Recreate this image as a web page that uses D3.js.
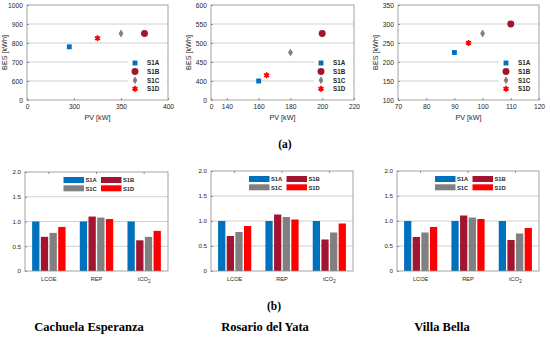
<!DOCTYPE html>
<html lang="en">
<head>
  <meta charset="UTF-8">
  <title>PV / BES sizing and indicators</title>
  <style>
    body { margin: 0; background: #fff; }
    svg text { font-family: "Liberation Sans", Arial, sans-serif; fill: #262626; }
    .title { font-family: "Liberation Serif", "Times New Roman", serif !important; font-weight: bold; fill: #000 !important; }
    .leg { font-weight: bold; }
  </style>
</head>
<body>
  <div class="canvas"></div>
  <script src="https://d3js.org/d3.v7.min.js"></script>
  <script>
    // ---- data ----
    const scenarios = ['S1A', 'S1B', 'S1C', 'S1D'];
    const sites = ['Cachuela Esperanza', 'Rosario del Yata', 'Villa Bella'];
    const indicators = ['LCOE', 'REP', 'tCO2'];

    // PV [kW] and BES [kWh] per scenario (S1A..S1D)
    const pvCachuela = [295, 375, 350, 325];
    const besCachuela = [780, 850, 850, 825];
    const pvRosario = [160, 200, 180, 165];
    const besRosario = [400, 525, 475, 415];
    const pvVilla = [90, 110, 100, 95];
    const besVilla = [225, 300, 275, 250];

    // normalised indicators, rows = scenario, cols = LCOE, REP, tCO2
    const barsCachuela = [[1.0, 1.0, 1.0], [0.69, 1.10, 0.62], [0.77, 1.08, 0.69], [0.89, 1.05, 0.81]];
    const barsRosario = [[1.0, 1.0, 1.0], [0.70, 1.13, 0.63], [0.78, 1.08, 0.77], [0.90, 1.03, 0.95]];
    const barsVilla = [[1.0, 1.0, 1.0], [0.68, 1.11, 0.62], [0.77, 1.07, 0.75], [0.88, 1.04, 0.86]];

    // axis ticks (the first label of a broken axis is shown as 0)
    const xTicksCachuela = [250, 300, 350, 400];
    const xLabelsCachuela = ['0', '300', '350', '400'];
    const yTicksCachuela = [500, 600, 700, 800, 900, 1000];
    const yLabelsCachuela = ['0', '600', '700', '800', '900', '1000'];
    const xTicksRosario = [130, 140, 160, 180, 200, 220];
    const xLabelsRosario = ['0', '140', '160', '180', '200', '220'];
    const yTicksRosario = [350, 400, 450, 500, 550, 600];
    const yLabelsRosario = ['0', '400', '450', '500', '550', '600'];
    const xTicksVilla = [70, 80, 90, 100, 110, 120];
    const xLabelsVilla = ['70', '80', '90', '100', '110', '120'];
    const yTicksVilla = [100, 150, 200, 250, 300, 350];
    const yLabelsVilla = ['100', '150', '200', '250', '300', '350'];
    const barTicks = [0, 0.5, 1.0, 1.5, 2.0];
    const barTickLabels = ['0', '0.5', '1.0', '1.5', '2.0'];

    const colors = ['#0072BD', '#A2142F', '#808080', '#FF0000'];
    const frameColor = '#8c8c8c';
    const gridColor = '#cfcfcf';

    const svg = d3.select('.canvas')
      .append('svg')
      .attr('width', 550)
      .attr('height', 338);

    // ---- scatter panels ----
    const scatterPanels = [
      { l: 27, r: 168, t: 5, b: 100, pv: pvCachuela, bes: besCachuela,
        xt: xTicksCachuela, xl: xLabelsCachuela, yt: yTicksCachuela, yl: yLabelsCachuela },
      { l: 211, r: 354, t: 5, b: 100, pv: pvRosario, bes: besRosario,
        xt: xTicksRosario, xl: xLabelsRosario, yt: yTicksRosario, yl: yLabelsRosario },
      { l: 398, r: 539, t: 5, b: 100, pv: pvVilla, bes: besVilla,
        xt: xTicksVilla, xl: xLabelsVilla, yt: yTicksVilla, yl: yLabelsVilla }
    ];

    const symbols = [d3.symbolSquare, d3.symbolCircle, d3.symbolDiamond, d3.symbolAsterisk];
    const symSizes = [24, 38, 20, 24];

    function drawMarker(g, i, x, y) {
      if (i === 2) {
        g.append('path')
          .attr('d', 'M0,-4L2.4,0L0,4L-2.4,0Z')
          .attr('transform', `translate(${x},${y})`)
          .attr('fill', colors[i]);
      } else if (i === 3) {
        g.append('path')
          .attr('d', d3.symbol(symbols[i], symSizes[i])())
          .attr('transform', `translate(${x},${y})`)
          .attr('fill', 'none')
          .attr('stroke', colors[i])
          .attr('stroke-width', 1.7);
        g.append('circle').attr('cx', x).attr('cy', y).attr('r', 1.7).attr('fill', colors[i]);
      } else {
        g.append('path')
          .attr('d', d3.symbol(symbols[i], symSizes[i])())
          .attr('transform', `translate(${x},${y})`)
          .attr('fill', colors[i]);
      }
    }

    scatterPanels.forEach(p => {
      const x = d3.scaleLinear().domain(d3.extent(p.xt)).range([p.l, p.r]);
      const y = d3.scaleLinear().domain(d3.extent(p.yt)).range([p.b, p.t]);
      const g = svg.append('g');

      // grid
      g.selectAll('line.grid')
        .data(p.yt.slice(1, -1))
        .join('line')
        .attr('x1', p.l).attr('x2', p.r)
        .attr('y1', d => y(d)).attr('y2', d => y(d))
        .attr('stroke', gridColor).attr('stroke-width', 1);

      const xAxis = d3.axisBottom(x).tickValues(p.xt)
        .tickFormat((d, i) => p.xl[i]).tickSizeInner(-2).tickSizeOuter(0).tickPadding(4);
      const yAxis = d3.axisLeft(y).tickValues(p.yt)
        .tickFormat((d, i) => p.yl[i]).tickSizeInner(-2).tickSizeOuter(0).tickPadding(4);

      const gx = g.append('g').attr('transform', `translate(0,${p.b})`).call(xAxis);
      const gy = g.append('g').attr('transform', `translate(${p.l},0)`).call(yAxis);
      [gx, gy].forEach(a => {
        a.select('.domain').remove();
        a.selectAll('line').attr('stroke', frameColor);
        a.selectAll('text').style('font-size', '6.7px').attr('fill', '#262626');
      });

      // legend box (white, covers grid)
      const lx = p.r - 40, ly = p.b - 47;
      g.append('rect').attr('x', lx).attr('y', ly).attr('width', 39).attr('height', 44).attr('fill', '#fff');
      scenarios.forEach((s, i) => {
        const yy = ly + 10 + i * 8.6;
        drawMarker(g, i, lx + 7, yy);
        g.append('text').attr('class', 'leg').attr('x', lx + 19).attr('y', yy + 2.3)
          .style('font-size', '6.3px').text(s);
      });

      // markers
      scenarios.forEach((s, i) => drawMarker(g, i, x(p.pv[i]), y(p.bes[i])));

      // frame
      g.append('rect').attr('x', p.l).attr('y', p.t)
        .attr('width', p.r - p.l).attr('height', p.b - p.t)
        .attr('fill', 'none').attr('stroke', frameColor).attr('stroke-width', 0.8);

      g.append('text')
        .attr('x', (p.l + p.r) / 2).attr('y', 120)
        .attr('text-anchor', 'middle').style('font-size', '7.2px').text('PV [kW]');
      g.append('text')
        .attr('transform', `translate(${p.l - 20},${(p.t + p.b) / 2}) rotate(-90)`)
        .attr('text-anchor', 'middle').style('font-size', '7.2px').text('BES [kWh]');
    });

    // ---- bar panels ----
    const barPanels = [
      { l: 25, r: 168, t: 172, b: 271, vals: barsCachuela },
      { l: 211, r: 353, t: 171, b: 271, vals: barsRosario },
      { l: 397, r: 539, t: 171, b: 271, vals: barsVilla }
    ];

    barPanels.forEach(p => {
      const x = d3.scaleBand().domain(indicators).range([p.l, p.r]);
      const xs = d3.scaleBand().domain(scenarios).range([0, x.bandwidth()])
        .paddingInner(0.16).paddingOuter(0.82);
      const y = d3.scaleLinear().domain([0, 2]).range([p.b, p.t]);
      const g = svg.append('g');

      g.selectAll('line.grid')
        .data(barTicks.slice(1, -1))
        .join('line')
        .attr('x1', p.l).attr('x2', p.r)
        .attr('y1', d => y(d)).attr('y2', d => y(d))
        .attr('stroke', gridColor).attr('stroke-width', 1);

      scenarios.forEach((s, si) => {
        g.selectAll(null)
          .data(indicators)
          .join('rect')
          .attr('x', (d) => x(d) + xs(s))
          .attr('y', (d, ci) => y(p.vals[si][ci]))
          .attr('width', xs.bandwidth())
          .attr('height', (d, ci) => p.b - y(p.vals[si][ci]))
          .attr('fill', colors[si]);
      });

      const yAxis = d3.axisLeft(y).tickValues(barTicks)
        .tickFormat((d, i) => barTickLabels[i]).tickSizeInner(-2).tickSizeOuter(0).tickPadding(4);
      const gy = g.append('g').attr('transform', `translate(${p.l},0)`).call(yAxis);
      gy.select('.domain').remove();
      gy.selectAll('line').attr('stroke', frameColor);
      gy.selectAll('text').style('font-size', '6.2px');

      // top ticks at group centres
      g.selectAll('line.tt')
        .data(indicators)
        .join('line')
        .attr('x1', d => x(d) + x.bandwidth() / 2).attr('x2', d => x(d) + x.bandwidth() / 2)
        .attr('y1', p.t).attr('y2', p.t + 2)
        .attr('stroke', frameColor);

      // x labels
      indicators.forEach(c => {
        const t = g.append('text')
          .attr('x', x(c) + x.bandwidth() / 2).attr('y', p.b + 10)
          .attr('text-anchor', 'middle').style('font-size', '5.7px');
        if (c === 'tCO2') {
          t.append('tspan').text('tCO');
          t.append('tspan').attr('dy', 2).style('font-size', '4.5px').text('2');
        } else {
          t.text(c);
        }
      });

      // legend (2 x 2)
      const cx = (p.l + p.r) / 2;
      scenarios.forEach((s, i) => {
        const col = i % 2, row = Math.floor(i / 2);
        const sx = cx - 33 + col * 37.5;
        const sy = p.t + 5 + row * 8.3;
        g.append('rect').attr('x', sx).attr('y', sy).attr('width', 20.5).attr('height', 6)
          .attr('fill', colors[i]);
        g.append('text').attr('class', 'leg').attr('x', sx + 22).attr('y', sy + 5.2)
          .style('font-size', '5.8px').text(s);
      });

      g.append('rect').attr('x', p.l).attr('y', p.t)
        .attr('width', p.r - p.l).attr('height', p.b - p.t)
        .attr('fill', 'none').attr('stroke', frameColor).attr('stroke-width', 0.8);
    });

    // ---- captions ----
    svg.append('text').attr('class', 'title').attr('x', 285).attr('y', 148)
      .attr('text-anchor', 'middle').style('font-size', '11.5px').text('(a)');
    svg.append('text').attr('class', 'title').attr('x', 274).attr('y', 310)
      .attr('text-anchor', 'middle').style('font-size', '11.5px').text('(b)');
    const titleX = [89, 265, 442];
    sites.forEach((s, i) => {
      svg.append('text').attr('class', 'title').attr('x', titleX[i]).attr('y', 331)
        .attr('text-anchor', 'middle').style('font-size', '12.5px').text(s);
    });
  </script>
</body>
</html>
